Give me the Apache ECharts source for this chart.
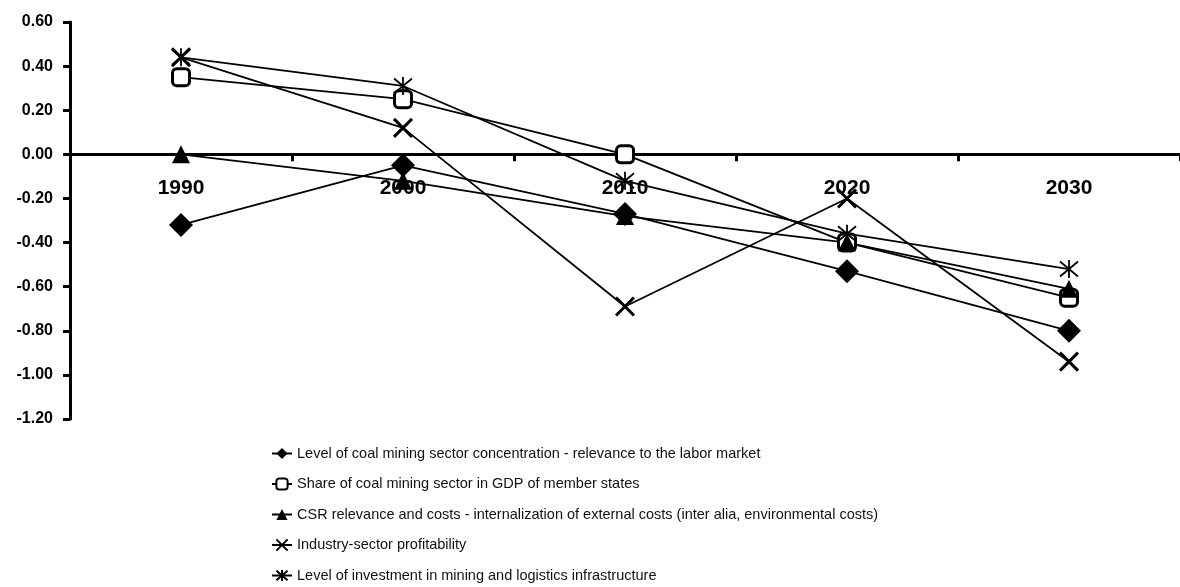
<!DOCTYPE html>
<html>
<head>
<meta charset="utf-8">
<script src="https://cdn.jsdelivr.net/npm/echarts/dist/echarts.min.js"></script>
<style>
html, body { margin: 0; padding: 0; background: #fff; }
#linechart01 { width: 1180px; height: 587px; }
</style>
</head>
<body>
<div id="linechart01"></div>
<script>
// 数据
var years = ['1990', '2000', '2010', '2020', '2030'];
var yTicks = [0.6, 0.4, 0.2, 0, -0.2, -0.4, -0.6, -0.8, -1.0, -1.2];

var concentration = [-0.32, -0.05, -0.27, -0.53, -0.80];
var gdpShare = [0.35, 0.25, 0.00, -0.40, -0.65];
var csrCosts = [0.00, -0.12, -0.28, -0.40, -0.61];
var profitability = [0.44, 0.12, -0.69, -0.20, -0.94];
var investment = [0.44, 0.31, -0.12, -0.36, -0.52];

var names = [
    'Level of coal mining sector concentration - relevance to the labor market',
    'Share of coal mining sector in GDP of member states',
    'CSR relevance and costs - internalization of external costs (inter alia, environmental costs)',
    'Industry-sector profitability',
    'Level of investment in mining and logistics infrastructure'
];

// 基于准备好的dom，初始化echarts实例
var myChart = echarts.init(document.getElementById('linechart01'));

var gridTop = 22, gridBottom = 168;
var yMin = yTicks[yTicks.length - 1], yMax = yTicks[0];
var plotH = 587 - gridTop - gridBottom;
// x轴放在0的位置（标签也跟着走）
var xOffset = -plotH * (0 - yMin) / (yMax - yMin);

var lineStyle = { color: '#000', width: 1.8 };

// 指定图表的配置项和数据
var option = {
    animation: false,
    grid: {
        left: 70,
        right: -12,
        top: gridTop,
        bottom: gridBottom,
        containLabel: false
    },
    legend: {
        orient: 'vertical',
        left: 271,
        top: 446,
        padding: 0,
        itemWidth: 20,
        itemHeight: 14,
        itemGap: 15.5,
        textStyle: {
            fontFamily: 'Liberation Sans',
            fontSize: 14.5,
            lineHeight: 14,
            color: '#111'
        },
        data: names
    },
    xAxis: {
        type: 'category',
        data: years,
        boundaryGap: true,
        offset: xOffset,
        axisLine: {
            onZero: false,
            lineStyle: { color: '#000', width: 3 }
        },
        axisTick: {
            show: true,
            length: 7,
            lineStyle: { color: '#000', width: 3 }
        },
        axisLabel: {
            margin: 23,
            fontFamily: 'Liberation Sans',
            fontWeight: 'bold',
            fontSize: 21,
            color: '#000'
        },
        splitLine: { show: false }
    },
    yAxis: {
        type: 'value',
        min: yMin,
        max: yMax,
        interval: 0.2,
        axisLine: {
            show: true,
            lineStyle: { color: '#000', width: 3 }
        },
        axisTick: {
            show: true,
            length: 7,
            lineStyle: { color: '#000', width: 3 }
        },
        axisLabel: {
            margin: 17,
            fontFamily: 'Liberation Sans',
            fontWeight: 'bold',
            fontSize: 16,
            color: '#000',
            formatter: function (v) { return v.toFixed(2); }
        },
        splitLine: { show: false }
    },
    series: [{
        name: names[0],
        type: 'line',
        data: concentration,
        symbol: 'diamond',
        symbolSize: 24,
        showAllSymbol: true,
        lineStyle: lineStyle,
        itemStyle: { color: '#000' }
    }, {
        name: names[1],
        type: 'line',
        data: gdpShare,
        symbol: 'roundRect',
        symbolSize: 17,
        showAllSymbol: true,
        lineStyle: lineStyle,
        itemStyle: { color: '#fff', borderColor: '#000', borderWidth: 3 }
    }, {
        name: names[2],
        type: 'line',
        data: csrCosts,
        symbol: 'triangle',
        symbolSize: 18,
        showAllSymbol: true,
        lineStyle: lineStyle,
        itemStyle: { color: '#000' }
    }, {
        name: names[3],
        type: 'line',
        data: profitability,
        symbol: 'path://M0,0L10,10M10,0L0,10',
        symbolSize: 18,
        showAllSymbol: true,
        lineStyle: lineStyle,
        itemStyle: { color: '#000', borderColor: '#000', borderWidth: 3 }
    }, {
        name: names[4],
        type: 'line',
        data: investment,
        symbol: 'path://M0,0L10,10M10,0L0,10M5,-1L5,11',
        symbolSize: 18,
        showAllSymbol: true,
        lineStyle: lineStyle,
        itemStyle: { color: '#000', borderColor: '#000', borderWidth: 1.8 }
    }]
};

// 使用刚指定的配置项和数据显示图表。
myChart.setOption(option);
</script>
</body>
</html>
